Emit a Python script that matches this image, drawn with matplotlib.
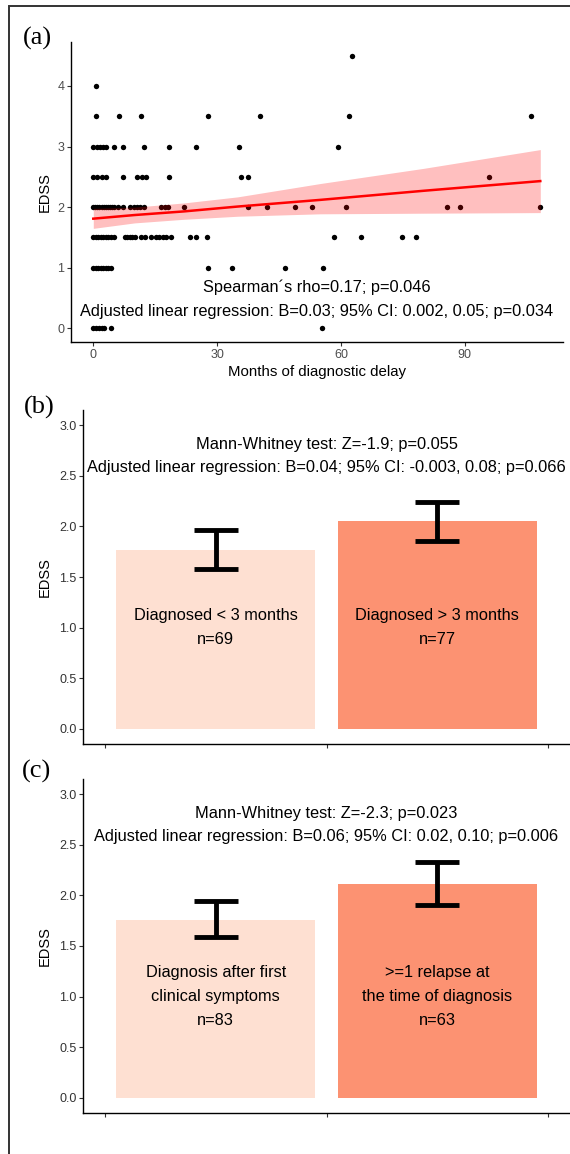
import matplotlib
matplotlib.use("Agg")
import matplotlib.pyplot as plt
from matplotlib.patches import Rectangle
import numpy as np

plt.rcParams['font.family'] = ['Liberation Sans', 'DejaVu Sans']

# ---- panel (a): months of delay vs EDSS, one list of delays per EDSS level
edss_levels = [4.5, 4.0, 3.5, 3.0, 2.5, 2.0, 1.5, 1.0, 0.0]
delays_by_level = [
    [62.6],
    [0.7],
    [0.7, 6.3, 11.5, 27.7, 40.4, 62.0, 106.0],
    [0, 0.8, 1.6, 2.4, 3.1, 4.9, 7.3, 12.3, 18.4, 24.9, 35.3, 59.4],
    [0, 1, 2, 3, 7.1, 10.7, 11.8, 12.8, 18.3, 35.8, 37.4, 95.8],
    [0, 0.5, 1, 1.5, 2, 2.5, 3, 3.5, 4, 4.5, 5, 6.1, 7.3, 9.0, 9.8, 10.6,
     11.4, 12.2, 16.4, 17.4, 18.2, 22.0, 37.4, 42.0, 48.9, 53.1, 61.2,
     85.6, 88.8, 108.3],
    [0, 0.6, 1.2, 1.8, 2.4, 3, 3.6, 4.2, 5, 7.6, 8.2, 8.8, 9.4, 10, 11.5,
     12.5, 14, 15.2, 16, 16.8, 17.6, 18.8, 23.5, 25, 27.5, 58.4, 64.8,
     74.7, 78.2],
    [0, 0.6, 1.2, 1.8, 2.4, 3, 3.6, 4.3, 27.8, 33.7, 46.4, 55.6],
    [0, 0.7, 1.4, 2.1, 2.7, 4.3, 55.3],
]

# linear fit and its 95% band
fit_x = [0, 10, 22, 35, 55, 80, 108.3]
fit_y = [1.81, 1.87, 1.93, 2.01, 2.12, 2.27, 2.43]
band_lo = [1.65, 1.74, 1.80, 1.85, 1.89, 1.90, 1.91]
band_hi = [1.98, 2.00, 2.07, 2.17, 2.39, 2.64, 2.95]

a_stats = ["Spearman\u00b4s rho=0.17; p=0.046",
           "Adjusted linear regression: B=0.03; 95% CI: 0.002, 0.05; p=0.034"]

# ---- panels (b) and (c): mean EDSS with error bars
b_labels = ["Diagnosed < 3 months\nn=69", "Diagnosed > 3 months\nn=77"]
b_mean = [1.77, 2.05]
b_low = [1.58, 1.86]
b_high = [1.96, 2.245]
b_stats = ["Mann-Whitney test: Z=-1.9; p=0.055",
           "Adjusted linear regression: B=0.04; 95% CI: -0.003, 0.08; p=0.066"]

c_labels = ["Diagnosis after first\nclinical symptoms\nn=83",
            ">=1 relapse at\nthe time of diagnosis\nn=63"]
c_mean = [1.76, 2.11]
c_low = [1.59, 1.91]
c_high = [1.94, 2.33]
c_stats = ["Mann-Whitney test: Z=-2.3; p=0.023",
           "Adjusted linear regression: B=0.06; 95% CI: 0.02, 0.10; p=0.006"]

bar_colors = ["#FEE0D2", "#FC9272"]

W, H = 570, 1154
TXT = 11.8
fig = plt.figure(figsize=(W / 100, H / 100), dpi=100)


def px_axes(left, top, right, bottom):
    return fig.add_axes([left / W, 1 - bottom / H, (right - left) / W, (bottom - top) / H])


def style(ax, tick_color):
    for s in ["top", "right"]:
        ax.spines[s].set_visible(False)
    for s in ["left", "bottom"]:
        ax.spines[s].set_linewidth(1.0)
    ax.tick_params(length=2.7, width=0.8, color="#333333", labelsize=9,
                   labelcolor=tick_color, pad=2)


# ---------------- (a)
ax = px_axes(71, 42, 563, 342)
xs = [d for lvl, ds in zip(edss_levels, delays_by_level) for d in ds]
ys = [lvl for lvl, ds in zip(edss_levels, delays_by_level) for d in ds]
ax.scatter(xs, ys, s=15, color="black", linewidths=0, zorder=2)
ax.fill_between(fit_x, band_lo, band_hi, color="red", alpha=0.25, linewidth=0, zorder=3)
ax.plot(fit_x, fit_y, color="red", lw=1.8, zorder=4)
xmid = (min(xs) + max(xs)) / 2
ax.text(xmid, 0.68, a_stats[0], ha="center", va="center", fontsize=TXT)
ax.text(xmid, 0.27, a_stats[1], ha="center", va="center", fontsize=TXT)
ax.set_xlim(-5.4, 113.8)
ax.set_ylim(-0.225, 4.725)
ax.set_xticks([0, 30, 60, 90])
ax.set_yticks([0, 1, 2, 3, 4])
style(ax, "#4D4D4D")
ax.set_xlabel("Months of diagnostic delay", fontsize=10.8)
ax.set_ylabel("EDSS", fontsize=10.5)
ax.xaxis.set_label_coords(0.5, -0.077)
ax.yaxis.set_label_coords(-0.0386, 0.5)


# ---------------- (b), (c)
def bar_panel(top, bottom, labels, mean, low, high, stats):
    ax = px_axes(83, top, 570, bottom)
    pos = [0.5, 1.5]
    ax.bar(pos, mean, width=0.9, color=bar_colors, zorder=2)
    ax.vlines(pos, low, high, color="black", lw=3.5, zorder=3)
    ax.hlines(low, [p - 0.1 for p in pos], [p + 0.1 for p in pos], color="black", lw=3.5, zorder=3)
    ax.hlines(high, [p - 0.1 for p in pos], [p + 0.1 for p in pos], color="black", lw=3.5, zorder=3)
    for p, lab in zip(pos, labels):
        ax.text(p, 1.0, lab, ha="center", va="center", fontsize=TXT, linespacing=1.72)
    ax.text(1.0, 2.81, stats[0], ha="center", va="center", fontsize=TXT)
    ax.text(1.0, 2.58, stats[1], ha="center", va="center", fontsize=TXT)
    ax.set_xlim(-0.1, 2.1)
    ax.set_ylim(-0.15, 3.15)
    ax.set_xticks([0, 1, 2])
    ax.set_xticklabels([])
    ax.set_yticks(np.arange(0, 3.01, 0.5))
    ax.set_yticklabels(["%.1f" % v for v in np.arange(0, 3.01, 0.5)])
    style(ax, "#333333")
    ax.set_ylabel("EDSS", fontsize=10.5)
    ax.yaxis.set_label_coords(-0.0637, 0.5)
    return ax


bar_panel(410, 744, b_labels, b_mean, b_low, b_high, b_stats)
bar_panel(779, 1113, c_labels, c_mean, c_low, c_high, c_stats)

# panel letters
for lab, (x, y) in zip(["(a)", "(b)", "(c)"], [(37, 38), (39, 407), (37, 771)]):
    fig.text(x / W, 1 - y / H, lab, ha="center", va="center", fontsize=19,
             family="Liberation Serif")

# outer frame
fig.add_artist(Rectangle((9 / W, -0.1), 1.2, 1.1 - 6 / H, transform=fig.transFigure,
                         fill=False, lw=1.4, ec="#333333"))

fig.savefig("out.png", dpi=100)
